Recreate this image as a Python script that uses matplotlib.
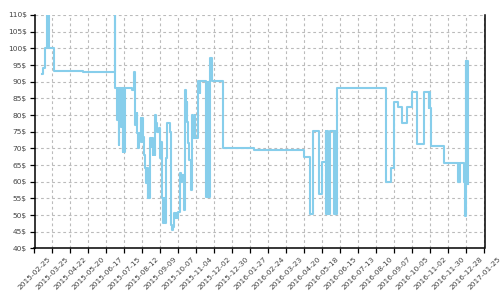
import numpy as np
import pandas as pd
import matplotlib
matplotlib.use("Agg")
from matplotlib import pyplot as plt
import matplotlib.dates as mdates

# fechas y precios (escalonados)
fechas = [
    "2015-03-09", "2015-03-11", "2015-03-14", "2015-03-16", "2015-03-19", "2015-03-27",
    "2015-05-12", "2015-06-30", "2015-07-01", "2015-07-04", "2015-07-05", "2015-07-06",
    "2015-07-07", "2015-07-10", "2015-07-11", "2015-07-12", "2015-07-13", "2015-07-14",
    "2015-07-15", "2015-07-16", "2015-07-27", "2015-07-30", "2015-07-31", "2015-08-01",
    "2015-08-03", "2015-08-04", "2015-08-05", "2015-08-07", "2015-08-09", "2015-08-10",
    "2015-08-11", "2015-08-13", "2015-08-14", "2015-08-16", "2015-08-17", "2015-08-19",
    "2015-08-20", "2015-08-21", "2015-08-22", "2015-08-23", "2015-08-24", "2015-08-26",
    "2015-08-27", "2015-08-28", "2015-08-29", "2015-08-31", "2015-09-01", "2015-09-02",
    "2015-09-04", "2015-09-07", "2015-09-08", "2015-09-10", "2015-09-11", "2015-09-12",
    "2015-09-13", "2015-09-14", "2015-09-15", "2015-09-16", "2015-09-17", "2015-09-19",
    "2015-09-24", "2015-09-25", "2015-09-27", "2015-09-29", "2015-09-30", "2015-10-01",
    "2015-10-03", "2015-10-04", "2015-10-06", "2015-10-09", "2015-10-11", "2015-10-12",
    "2015-10-15", "2015-10-17", "2015-10-19", "2015-10-20", "2015-10-21", "2015-10-22",
    "2015-10-23", "2015-10-27", "2015-10-28", "2015-10-30", "2015-11-01", "2015-11-02",
    "2015-11-06", "2015-11-09", "2015-11-10", "2015-11-19", "2015-11-20", "2015-11-21",
    "2015-11-22", "2015-11-23", "2015-11-25", "2015-11-28", "2015-12-16", "2016-02-01",
    "2016-04-20", "2016-04-29", "2016-05-03", "2016-05-13", "2016-05-18", "2016-05-23",
    "2016-05-24", "2016-05-25", "2016-05-26", "2016-05-30", "2016-06-05", "2016-06-06",
    "2016-06-07", "2016-06-09", "2016-08-25", "2016-09-01", "2016-09-07", "2016-09-12",
    "2016-09-18", "2016-09-26", "2016-10-04", "2016-10-12", "2016-10-23", "2016-10-30",
    "2016-10-31", "2016-11-01", "2016-11-03", "2016-11-23", "2016-12-15", "2016-12-16",
    "2016-12-17", "2016-12-18", "2016-12-24", "2016-12-25", "2016-12-26", "2016-12-27",
    "2016-12-28", "2016-12-29", "2016-12-30",
]
precios = [
    92.2, 94.2, 100.2, 113, 100.2, 93.3,
    93.0, 113, 88.2, 78.5, 88.2, 71,
    88.2, 76.5, 88.2, 69, 88.2, 76.5,
    69, 88.2, 87.5, 93, 80.5, 77,
    80.5, 74.5, 70, 74.5, 79, 72,
    79, 73.5, 68, 64, 59.5, 64,
    55, 62, 55, 64, 73, 70.5,
    73, 68, 70.5, 68, 80, 77.5,
    75, 76, 67, 72, 61, 55,
    47.5, 52, 55, 47.5, 67, 77.5,
    75, 47, 45.5, 46.5, 50.5, 49,
    50.5, 49, 51, 62.5, 60, 62,
    51.5, 87.5, 81.5, 84, 78, 71.5,
    66.5, 57.5, 80, 73, 80, 73,
    90.3, 86.5, 90.3, 55.5, 90, 55.5,
    90, 55.5, 97, 90.3, 70.2, 69.5,
    67.3, 50.3, 75.2, 56.3, 65.8, 75.2,
    50.3, 75.2, 50.3, 75.2, 50.3, 75.2,
    50.3, 88.1, 60, 64.2, 83.8, 82.3,
    77.5, 82.3, 87, 71.3, 87, 82,
    87, 82, 70.7, 65.7, 60, 65.7,
    60, 65.7, 60, 57, 49.8, 96.3,
    59.3, 96.3, 59.3,
]

ticks_x = ["2015-02-25", "2015-03-25", "2015-04-22", "2015-05-20", "2015-06-17",
           "2015-07-15", "2015-08-12", "2015-09-09", "2015-10-07", "2015-11-04",
           "2015-12-02", "2015-12-30", "2016-01-27", "2016-02-24", "2016-03-23",
           "2016-04-20", "2016-05-18", "2016-06-15", "2016-07-13", "2016-08-10",
           "2016-09-07", "2016-10-05", "2016-11-02", "2016-11-30", "2016-12-28",
           "2017-01-25"]
ticks_y = [40, 45, 50, 55, 60, 65, 70, 75, 80, 85, 90, 95, 100, 105, 110]

fechas = pd.to_datetime(fechas)
tx = pd.to_datetime(ticks_x)

fig = plt.figure(figsize=(5, 3), dpi=100)
ax = fig.add_axes([0.069, 0.172, 0.9, 0.778])

ax.plot(fechas, precios, drawstyle='steps-post', color='#87CEEB', linewidth=1.5)

ax.set_xlim(tx[0], tx[-1])
ax.set_ylim(40, 110)
ax.set_xticks(tx)
ax.set_xticklabels(ticks_x, rotation=45, ha='center', fontsize=5.4, color='#444444')
ax.set_yticks(ticks_y)
ax.set_yticklabels([str(v) + "$" for v in ticks_y], fontsize=5.4, color='#444444')

ax.grid(True, color='#bbbbbb', linestyle=(0, (2.5, 2.5)), linewidth=0.8)
ax.spines['top'].set_visible(False)
for s in ['left', 'bottom', 'right']:
    ax.spines[s].set_linewidth(1.1)
ax.tick_params(axis='both', length=3.5, width=0.9, pad=2)

fig.savefig("out.png", dpi=100)
